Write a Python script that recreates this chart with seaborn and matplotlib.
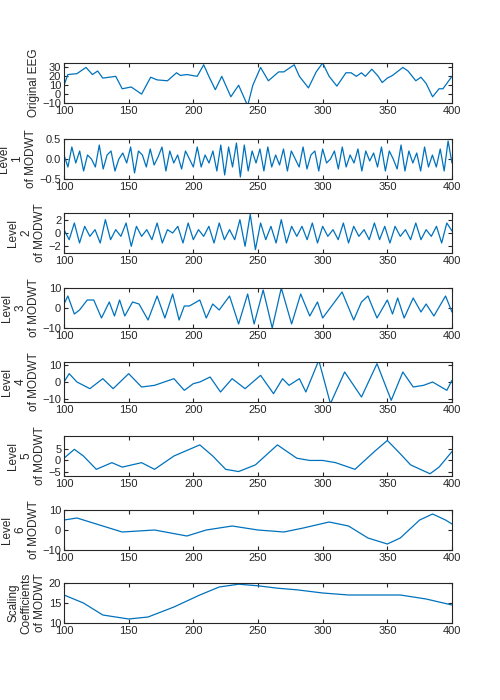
import matplotlib
matplotlib.use("Agg")
import matplotlib.pyplot as plt
import seaborn as sns
import numpy as np

sns.set_style("ticks")
plt.rcParams['font.family'] = ['Liberation Sans', 'DejaVu Sans']

eeg_x = [100,103,110,117,122,126,130,140,145,152,160,167,172,180,187,190,195,203,208,212,217,222,229,235,242,246,252,258,266,270,278,282,289,295,300,305,311,318,322,326,330,333,338,343,346,350,354,362,366,372,376,380,385,390,393,400]
eeg_y = [10,22,23,30,22,26,18,20,6,8,0,19,16,15,24,21,22,20,33,20,5,20,-3,10,-13,10,30,15,25,25,33,20,7,25,35,20,9,24,24,20,24,20,28,20,13,18,21,30,26,15,19,12,-3,6,6,20]

l1_y = [0.1,-0.2,0.3,-0.1,0.2,-0.3,0.1,0.0,-0.2,0.35,-0.25,0.1,0.2,-0.3,0.0,0.15,-0.1,0.3,-0.35,0.2,
        0.1,-0.2,0.25,-0.15,0.05,0.3,-0.3,0.2,-0.1,0.1,-0.25,0.2,0.0,-0.2,0.3,-0.2,0.1,-0.1,0.2,-0.3,
        0.35,-0.4,0.3,-0.2,0.4,-0.45,0.35,-0.3,0.2,-0.1,0.25,-0.3,0.3,-0.2,0.1,-0.15,0.25,-0.3,0.2,0.0,
        -0.2,0.3,-0.25,0.1,0.2,-0.3,0.25,-0.1,0.0,0.2,-0.25,0.3,-0.2,0.1,-0.1,0.25,-0.3,0.2,-0.05,0.15,
        -0.2,0.3,-0.3,0.2,0.0,-0.25,0.35,-0.3,0.2,-0.1,0.15,-0.3,0.3,-0.2,0.1,-0.2,0.25,-0.3,0.45,-0.1]
l1_x = list(np.linspace(100, 400, len(l1_y)))

l2_y = [0.5,-1,1.5,-1.5,1,-0.5,0.5,-1.5,2,-1,0.5,-0.5,1.5,-2,1,-0.5,0.5,-1,1.5,-1.5,
        0.5,0,1,-1.5,1.5,-1,0.5,-0.5,1,-1.5,1.5,-1,0.5,-1,2,-2,2.8,-2.5,1.5,-1,
        1,-1.5,2,-1.5,1,-0.5,1,-1,1.5,-1.5,1,-0.5,0.5,-1,1.5,-1.5,1,-0.5,0.5,-1,
        1.5,-1,1,-1.5,1,-0.5,0.5,-1,1.5,-1,0.5,-0.5,1,-1.5,1.5,0.3]
l2_x = list(np.linspace(100, 400, len(l2_y)))

l3_x = [100,103,108,112,118,123,129,135,139,143,147,153,158,165,172,178,184,189,193,197,205,210,215,220,228,235,242,247,254,261,268,276,283,290,296,300,315,324,330,335,342,350,354,358,363,370,376,380,386,395,400]
l3_y = [2,6,-3,-1,4,4,-5,3,-4,4,-4,3,2,-6,6,-5,7,-6,1,1,4,-5,2,-1,6,-8,7,-8,9,-10,10,-8,7,-4,3,-5,8,-6,3,6,-5,4,-3,5,-5,5,-2,2,-4,6,-2]

l4_x = [100,104,110,120,130,138,150,160,170,185,193,200,205,213,221,230,240,252,262,269,274,282,287,297,306,317,330,342,353,362,370,378,385,396,400]
l4_y = [0,5,0,-4,2,-4,5,-3,-2,2,-5,-1,0,3,-6,2,-4,4,-7,2,-2,2,-6,13,-13,6,-9,11,-11,6,-3,-2,0,-5,1]

l5_x = [100,108,115,125,137,145,160,170,185,205,215,225,235,248,265,280,290,300,310,325,340,350,360,368,383,390,400]
l5_y = [1,5,2,-4,-1,-3,-1,-4,2,7,2,-4,-5,-2,7,1,0,0,-1,-4,4,9,3,-2,-6,-3,4]

l6_x = [100,110,125,145,170,195,210,230,250,270,285,305,320,335,350,360,375,385,395,400]
l6_y = [5,6,3,-1,0,-3,0,2,0,-1,1,4,2,-4,-7,-4,5,8,5,3]

sc_x = [100,115,130,150,165,185,205,220,235,250,265,280,300,320,340,360,380,400]
sc_y = [17,15,12,11,11.5,14,17,19,19.7,19.3,18.7,18.3,17.5,17,17,17,16,14.5]

panels = [
    (eeg_x, eeg_y, "Original EEG", (-10, 35), [-10, 0, 10, 20, 30]),
    (l1_x, l1_y, "Level\n1\nof MODWT", (-0.5, 0.5), [-0.5, 0, 0.5]),
    (l2_x, l2_y, "Level\n2\nof MODWT", (-3, 3), [-2, 0, 2]),
    (l3_x, l3_y, "Level\n3\nof MODWT", (-10, 10), [-10, 0, 10]),
    (l4_x, l4_y, "Level\n4\nof MODWT", (-12, 12), [-10, 0, 10]),
    (l5_x, l5_y, "Level\n5\nof MODWT", (-7, 11), [-5, 0, 5]),
    (l6_x, l6_y, "Level\n6\nof MODWT", (-10, 10), [-10, 0, 10]),
    (sc_x, sc_y, "Scaling\nCoefficients\nof MODWT", (10, 20), [10, 15, 20]),
]
tops = [63, 139, 213, 288, 362, 436, 510, 583]

fig = plt.figure(figsize=(5, 7), dpi=100)
for (x, y, lab, yl, yt), t in zip(panels, tops):
    ax = fig.add_axes([64/500, 1 - (t + 40)/700, 388/500, 40/700])
    sns.lineplot(x=x, y=y, ax=ax, color="#0072BD", linewidth=0.9)
    ax.set_xlim(100, 400)
    ax.set_ylim(*yl)
    ax.set_yticks(yt)
    ax.set_xticks([100, 150, 200, 250, 300, 350, 400])
    ax.tick_params(labelsize=8, direction="in", length=3, pad=2, top=True, right=True, colors="#262626")
    ax.set_ylabel(lab, fontsize=8.5, linespacing=1.15, labelpad=2, color="#262626")
    for s in ax.spines.values():
        s.set_linewidth(0.8)
        s.set_color("#262626")
fig.savefig("out.png", dpi=100)
